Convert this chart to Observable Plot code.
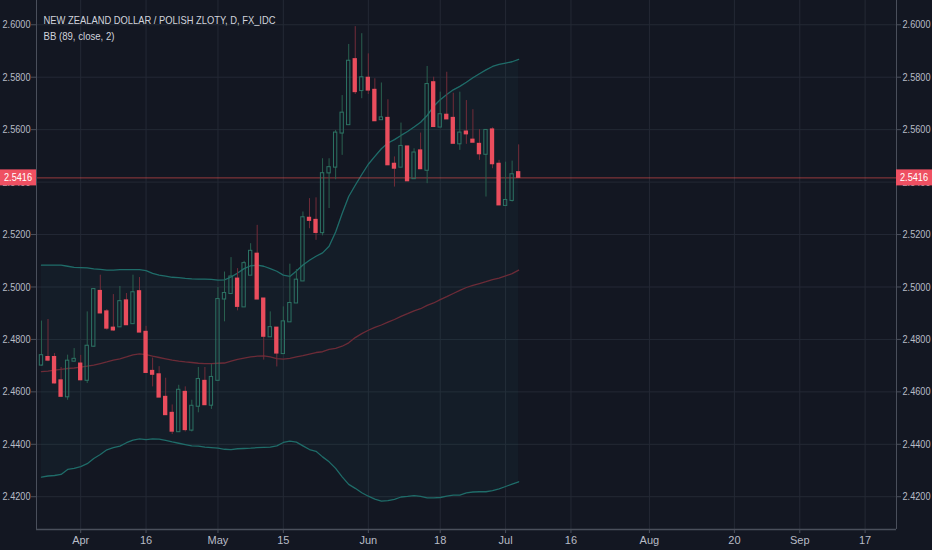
<!DOCTYPE html>
<html>
<head>
<meta charset="utf-8">
<script src="https://cdn.jsdelivr.net/npm/d3@7"></script>
<script src="https://cdn.jsdelivr.net/npm/@observablehq/plot@0.6"></script>
<style>
  html, body { margin: 0; padding: 0; background: #131722; }
  #chart { width: 932px; height: 550px; }
</style>
</head>
<body>
<div id="chart"></div>
<script>
const title = "NEW ZEALAND DOLLAR / POLISH ZLOTY, D, FX_IDC";
const subtitle = "BB (89, close, 2)";

// trading days (2018); x position = trading-day index, Apr 2 = 0
const dates = ["03-23","03-26","03-27","03-28","03-29","03-30",
  "04-02","04-03","04-04","04-05","04-06","04-09","04-10","04-11","04-12","04-13",
  "04-16","04-17","04-18","04-19","04-20","04-23","04-24","04-25","04-26","04-27","04-30",
  "05-01","05-02","05-03","05-04","05-07","05-08","05-09","05-10","05-11","05-14","05-15","05-16","05-17","05-18",
  "05-21","05-22","05-23","05-24","05-25","05-28","05-29","05-30","05-31",
  "06-01","06-04","06-05","06-06","06-07","06-08","06-11","06-12","06-13","06-14","06-15",
  "06-18","06-19","06-20","06-21","06-22","06-25","06-26","06-27","06-28","06-29",
  "07-02","07-03","07-04"];
const firstIndex = -6;

const open = [2.4702,2.4733,2.4733,2.4644,2.4581,2.4717,
  2.4708,2.4644,2.4774,2.4985,2.4907,2.4845,2.4848,2.4949,2.4860,2.4984,
  2.4829,2.4680,2.4667,2.4581,2.4520,2.4448,2.4600,2.4454,2.4545,2.4642,2.4549,
  2.4644,2.4954,2.4975,2.5032,2.4924,2.5045,2.5127,2.4956,2.4810,2.4845,2.4746,2.4867,2.4939,2.5023,
  2.5264,2.5256,2.5207,2.5435,2.5457,2.5587,2.5619,2.5869,2.5749,
  2.5798,2.5752,2.5638,2.5645,2.5470,2.5457,2.5536,2.5413,2.5521,2.5445,2.5781,
  2.5610,2.5657,2.5645,2.5546,2.5593,2.5562,2.5546,2.5506,2.5601,2.5470,
  2.5311,2.5330,2.5438];
const high = [2.4870,2.4876,2.4746,2.4693,2.4740,2.4765,
  2.4739,2.4905,2.4994,2.5045,2.4914,2.4971,2.5002,2.4975,2.5045,2.5036,
  2.4850,2.4729,2.4696,2.4652,2.4550,2.4625,2.4619,2.4568,2.4693,2.4693,2.4704,
  2.4998,2.5057,2.5112,2.5070,2.5098,2.5165,2.5235,2.4956,2.4905,2.4845,2.4924,2.5087,2.5066,2.5286,
  2.5337,2.5340,2.5489,2.5489,2.5597,2.5730,2.5925,2.5993,2.5966,
  2.5889,2.5794,2.5778,2.5714,2.5496,2.5625,2.5536,2.5527,2.5587,2.5841,2.5800,
  2.5743,2.5819,2.5739,2.5743,2.5711,2.5676,2.5600,2.5600,2.5607,2.5483,
  2.5476,2.5480,2.5542];
const low = [2.4698,2.4715,2.4630,2.4578,2.4568,2.4714,
  2.4643,2.4632,2.4771,2.4898,2.4835,2.4831,2.4845,2.4854,2.4858,2.4826,
  2.4672,2.4619,2.4578,2.4511,2.4437,2.4447,2.4447,2.4447,2.4520,2.4549,2.4533,
  2.4644,2.4867,2.4975,2.4909,2.4924,2.5045,2.4952,2.4721,2.4810,2.4695,2.4746,2.4867,2.4939,2.5023,
  2.5222,2.5178,2.5195,2.5299,2.5409,2.5502,2.5619,2.5734,2.5718,
  2.5734,2.5632,2.5638,2.5464,2.5381,2.5457,2.5403,2.5413,2.5449,2.5394,2.5610,
  2.5610,2.5639,2.5546,2.5521,2.5544,2.5550,2.5483,2.5343,2.5451,2.5311,
  2.5311,2.5324,2.5416];
const close = [2.4738,2.4719,2.4632,2.4581,2.4717,2.4724,
  2.4644,2.4774,2.4990,2.4899,2.4841,2.4834,2.4944,2.4854,2.4978,2.4826,
  2.4672,2.4665,2.4578,2.4511,2.4448,2.4606,2.4454,2.4545,2.4647,2.4549,2.4655,
  2.4952,2.4975,2.5038,2.4924,2.5089,2.5136,2.4952,2.4810,2.4845,2.4746,2.4867,2.4937,2.5026,2.5264,
  2.5252,2.5206,2.5432,2.5455,2.5587,2.5663,2.5861,2.5743,2.5798,
  2.5749,2.5632,2.5645,2.5464,2.5451,2.5536,2.5403,2.5511,2.5449,2.5772,2.5610,
  2.5657,2.5639,2.5546,2.5587,2.5582,2.5550,2.5506,2.5597,2.5468,2.5311,
  2.5330,2.5428,2.5416];

const bbUpper = [2.5083,2.5083,2.5083,2.5083,2.5079,2.5075,
  2.5074,2.5073,2.5069,2.5067,2.5064,2.5064,2.5066,2.5066,2.5066,2.5066,
  2.5062,2.5052,2.5045,2.5041,2.5037,2.5036,2.5033,2.5031,2.5030,2.5030,2.5029,
  2.5026,2.5027,2.5038,2.5053,2.5070,2.5081,2.5083,2.5079,2.5070,2.5060,2.5045,2.5040,2.5061,2.5084,
  2.5102,2.5117,2.5130,2.5155,2.5210,2.5280,2.5345,2.5388,2.5429,
  2.5468,2.5498,2.5527,2.5549,2.5562,2.5578,2.5593,2.5610,2.5628,2.5654,2.5689,
  2.5714,2.5734,2.5752,2.5765,2.5781,2.5798,2.5813,2.5828,2.5841,2.5849,
  2.5854,2.5859,2.5868];
const bbBasis = [2.4677,2.4679,2.4683,2.4686,2.4689,2.4691,
  2.4694,2.4698,2.4702,2.4708,2.4714,2.4721,2.4726,2.4733,2.4741,2.4745,
  2.4742,2.4736,2.4731,2.4726,2.4721,2.4717,2.4714,2.4712,2.4709,2.4708,2.4708,
  2.4709,2.4710,2.4717,2.4724,2.4729,2.4733,2.4736,2.4737,2.4733,2.4727,2.4725,2.4728,2.4733,2.4738,
  2.4744,2.4750,2.4753,2.4762,2.4766,2.4774,2.4787,2.4807,2.4822,
  2.4835,2.4846,2.4855,2.4866,2.4876,2.4888,2.4898,2.4909,2.4917,2.4930,2.4939,
  2.4952,2.4963,2.4975,2.4987,2.4998,2.5006,2.5013,2.5020,2.5028,2.5034,
  2.5042,2.5051,2.5064];
const bbLower = [2.4275,2.4279,2.4281,2.4285,2.4304,2.4308,
  2.4315,2.4326,2.4346,2.4361,2.4379,2.4387,2.4393,2.4406,2.4416,2.4421,
  2.4418,2.4421,2.4420,2.4415,2.4409,2.4404,2.4399,2.4394,2.4393,2.4389,2.4387,
  2.4385,2.4381,2.4380,2.4383,2.4384,2.4385,2.4387,2.4388,2.4389,2.4394,2.4407,2.4412,2.4408,2.4394,
  2.4380,2.4373,2.4352,2.4333,2.4308,2.4276,2.4247,2.4232,2.4215,
  2.4202,2.4191,2.4183,2.4185,2.4190,2.4199,2.4201,2.4204,2.4201,2.4196,2.4196,
  2.4197,2.4202,2.4206,2.4206,2.4215,2.4218,2.4219,2.4219,2.4223,2.4230,
  2.4239,2.4248,2.4257];

const tickIndex = [0, 10, 21, 31, 44, 55, 65, 75, 87, 100, 110, 120];
const tickLabels = ["Apr","16","May","15","Jun","18","Jul","16","Aug","20","Sep","17"];
const priceTicks = [2.42, 2.44, 2.46, 2.48, 2.50, 2.52, 2.54, 2.56, 2.58, 2.60];
const lastPrice = 2.5416;

const xDomain = [-6.76, 124.8];
const yDomain = [2.4075, 2.60926];

const colors = {
  bg: "#131722", grid: "#242935", frame: "#4a4f5b", text: "#b8bcc6",
  up: "#2c7364", upWick: "#29604f", down: "#ea4d5d", downWick: "#722c39",
  band: "#1f6c69", basis: "#6c2b37", price: "#ef5350"
};

const data = dates.map((d, i) => ({
  date: d, k: i + firstIndex,
  o: open[i], h: high[i], l: low[i], c: close[i],
  up: bbUpper[i], mid: bbBasis[i], lo: bbLower[i]
}));
const ups = data.filter(d => d.c >= d.o);
const downs = data.filter(d => d.c < d.o);
const halfW = 0.33;

const font = "'Liberation Sans', Arial, sans-serif";

const chart = Plot.plot({
  width: 932, height: 550,
  marginLeft: 36, marginRight: 36, marginTop: 0, marginBottom: 21,
  style: { background: colors.bg, color: colors.text, fontFamily: font, fontSize: "11px" },
  x: { type: "linear", domain: xDomain, axis: null, label: null },
  y: { type: "linear", domain: yDomain, axis: null, label: null },
  marks: [
    Plot.ruleX(tickIndex, { stroke: colors.grid, strokeWidth: 1 }),
    Plot.ruleY(priceTicks, { stroke: colors.grid, strokeWidth: 1 }),
    Plot.areaY(data, { x: "k", y1: "lo", y2: "up", fill: "#26a69a", fillOpacity: 0.05 }),
    Plot.lineY(data, { x: "k", y: "up", stroke: colors.band, strokeWidth: 1.3 }),
    Plot.lineY(data, { x: "k", y: "lo", stroke: colors.band, strokeWidth: 1.3 }),
    Plot.lineY(data, { x: "k", y: "mid", stroke: colors.basis, strokeWidth: 1.3 }),
    Plot.ruleY([lastPrice], { stroke: colors.price, strokeOpacity: 0.6, strokeWidth: 1 }),
    // wicks
    Plot.ruleX(ups, { x: "k", y1: d => Math.max(d.o, d.c), y2: "h", stroke: colors.upWick }),
    Plot.ruleX(ups, { x: "k", y1: "l", y2: d => Math.min(d.o, d.c), stroke: colors.upWick }),
    Plot.ruleX(downs, { x: "k", y1: d => Math.max(d.o, d.c), y2: "h", stroke: colors.downWick }),
    Plot.ruleX(downs, { x: "k", y1: "l", y2: d => Math.min(d.o, d.c), stroke: colors.downWick }),
    // bodies
    Plot.rect(downs, { x1: d => d.k - halfW, x2: d => d.k + halfW, y1: "c", y2: "o",
      fill: colors.down, insetTop: -0.5, insetBottom: -0.5 }),
    Plot.rect(ups, { x1: d => d.k - halfW, x2: d => d.k + halfW, y1: "o", y2: "c",
      fill: "none", stroke: colors.up, strokeWidth: 1, insetTop: -0.5, insetBottom: -0.5,
      insetLeft: 0.5, insetRight: 0.5 }),
    // frame
    Plot.ruleX([xDomain[0], xDomain[1]], { stroke: colors.frame, strokeWidth: 1 }),
    Plot.ruleY([yDomain[0]], { stroke: colors.frame, strokeWidth: 1.5 }),
    // axes
    Plot.axisX({ ticks: tickIndex, tickFormat: (d, i) => tickLabels[i], tickSize: 4,
      tickPadding: 3, stroke: colors.frame, fill: colors.text, fontSize: 11, label: null }),
    Plot.axisY({ anchor: "left", ticks: priceTicks, tickFormat: d => d.toFixed(4),
      tickSize: 5, tickPadding: 1, stroke: colors.frame, fill: colors.text, fontSize: 11, label: null }),
    Plot.axisY({ anchor: "right", ticks: priceTicks, tickFormat: d => d.toFixed(4),
      tickSize: 4, tickPadding: 2, stroke: colors.frame, fill: colors.text, fontSize: 11, label: null }),
    // legend texts
    Plot.text([title], { frameAnchor: "top-left", text: d => d, dx: 7, dy: 23,
      lineAnchor: "bottom", textAnchor: "start", fill: "#d1d4dc", fontSize: 11 }),
    Plot.text([subtitle], { frameAnchor: "top-left", text: d => d, dx: 7, dy: 39.5,
      lineAnchor: "bottom", textAnchor: "start", fill: "#d1d4dc", fontSize: 11 })
  ]
});

document.getElementById("chart").appendChild(chart);

const svg = d3.select(chart);
// condense texts to the narrow widths of the reference
const condense = (sel, w) => sel.attr("textLength", w).attr("lengthAdjust", "spacingAndGlyphs");
condense(svg.selectAll("g[aria-label='y-axis tick label'] text"), 28);
svg.selectAll("g[aria-label='text'] text").each(function () {
  const t = d3.select(this);
  if (t.text() === title) condense(t, 232);
  else if (t.text() === subtitle) condense(t, 71);
});

// current price labels on both axes, placed with the chart's own scales
const ys = chart.scale("y");
const xr = chart.scale("x").range;
const yp = ys.apply(lastPrice);
[[0, xr[0]], [xr[1], 932]].forEach(([a, b]) => {
  const g = svg.append("g");
  g.append("rect").attr("x", a).attr("y", yp - 8).attr("width", b - a).attr("height", 16)
    .attr("fill", "#ef5062");
  const t = g.append("text").attr("x", (a + b) / 2).attr("y", yp).attr("dy", "0.35em")
    .attr("text-anchor", "middle").attr("fill", "#ffffff")
    .style("font-family", font).style("font-size", "11px")
    .text(lastPrice.toFixed(4));
  condense(t, 28);
});
</script>
</body>
</html>
